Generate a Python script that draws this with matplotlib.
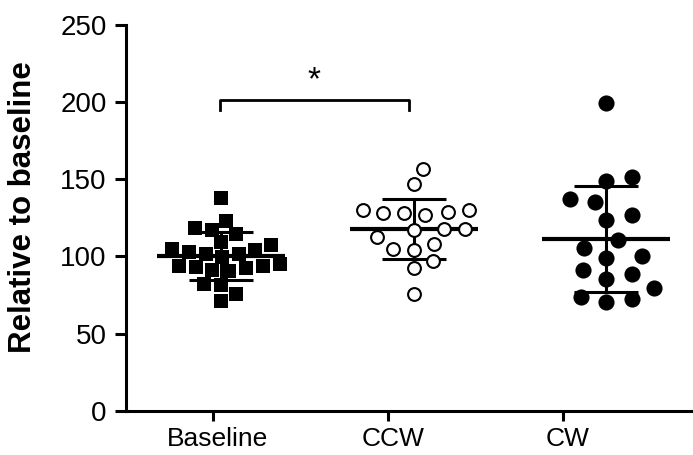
#!/usr/bin/env python3
"""Scatter dot plot (mean +/- SD) of three conditions relative to baseline -> out.png."""

import matplotlib

matplotlib.use("Agg")
import matplotlib.pyplot as plt  # noqa: E402
import numpy as np  # noqa: E402
from matplotlib.transforms import ScaledTranslation  # noqa: E402

plt.rcParams["font.family"] = ["Liberation Sans", "DejaVu Sans"]

GROUPS = ["Baseline", "CCW", "CW"]
BASELINE = [138.0, 122.8, 117.4, 118.5, 114.6, 109.2, 107.7, 104.9, 102.7, 101.6,
            101.6, 104.4, 99.4, 95.1, 94.0, 92.9, 91.4, 90.3, 92.5, 93.6,
            81.7, 82.3, 75.8, 70.8]
CCW = [156.9, 147.1, 129.8, 128.7, 128.3, 126.7, 128.3, 129.8, 117.9, 117.4,
       117.9, 108.3, 112.4, 105.1, 104.0, 97.3, 92.5, 75.6]
CW = [199.3, 148.8, 151.7, 137.4, 135.2, 126.7, 123.5, 110.5, 105.5, 99.0,
      100.5, 88.6, 91.4, 85.6, 79.5, 73.7, 70.2, 72.4]
YTICKS = [0, 50, 100, 150, 200, 250]
SIG_PAIR = (0, 1)   # Baseline vs CCW
SIG_LABEL = "*"

# GraphPad drew the columns slightly right of their category ticks
SHIFT = [0.05, 0.15, 0.25]


def swarm(ax, x0, vals, w, h):
    """Beeswarm offsets (data units); markers keep an elliptic w x h pixel gap."""
    pts = ax.transData.transform(np.column_stack([np.full(len(vals), x0), vals]))
    ys = pts[:, 1]
    xs = np.zeros(len(vals))
    done = []
    for i in np.argsort(ys, kind="stable"):
        y = ys[i]
        near = []
        for px, py in done:
            t = (y - py) / h
            if abs(t) < 1:
                near.append((px, w * np.sqrt(1 - t * t)))
        cands = [0.0] + [px + s * r for px, r in near for s in (-1, 1)]
        for c in sorted(cands, key=lambda v: (round(abs(v), 3), -v)):
            if all(abs(c - px) >= r - 1e-6 for px, r in near):
                break
        xs[i] = c
        done.append((c, y))
    ppu = ax.transData.transform((1, 0))[0] - ax.transData.transform((0, 0))[0]
    return xs / ppu


def main():
    fig = plt.figure(figsize=(6.93, 4.55), dpi=100)
    ax = fig.add_axes([0.1818, 0.0974, 0.8182, 0.8477])
    ax.set_xlim(-0.495, 2.745)
    ax.set_ylim(0, 250)

    styles = [
        dict(marker="s", s=100, color="black", linewidths=0, box=(17, 15)),
        dict(marker="o", s=85, facecolor="white", edgecolor="black", linewidths=1.5,
             box=(21, 17)),
        dict(marker="o", s=135, color="black", linewidths=0, box=(26, 20)),
    ]
    for k, vals in enumerate([BASELINE, CCW, CW]):
        vals = np.asarray(vals)
        x0 = k + SHIFT[k]
        st = dict(styles[k])
        w, h = st.pop("box")
        off = swarm(ax, x0, vals, w, h)
        ax.scatter(x0 + off, vals, zorder=3, clip_on=False, **st)
        m, sd = vals.mean(), vals.std(ddof=1)
        ax.plot([x0 - 0.366, x0 + 0.366], [m, m], color="black", lw=3, zorder=2,
                solid_capstyle="butt")
        ax.plot([x0, x0], [m - sd, m + sd], color="black", lw=2.2, zorder=2)
        for yy in (m - sd, m + sd):
            ax.plot([x0 - 0.183, x0 + 0.183], [yy, yy], color="black", lw=2.2,
                    zorder=2, solid_capstyle="butt")

    # significance bracket
    a, b = SIG_PAIR
    xa, xb = a + SHIFT[a] - 0.01, b + SHIFT[b] - 0.027
    ax.plot([xa, xa, xb, xb], [195, 201.3, 201.3, 195], color="black", lw=2,
            solid_joinstyle="round")
    ax.text((xa + xb) / 2, 204, SIG_LABEL, ha="center", va="bottom", fontsize=24)

    ax.set_xticks(range(len(GROUPS)))
    ax.set_xticklabels(GROUPS)
    ax.set_yticks(YTICKS)
    ax.set_ylabel("Relative to baseline", fontsize=22.5, fontweight="bold", va="center")
    ax.yaxis.set_label_coords(-0.1817, 0.529)
    ax.tick_params(axis="x", length=7.5, width=2.2, pad=4, labelsize=19)
    ax.tick_params(axis="y", length=8, width=2.2, pad=6, labelsize=20)
    nudge = ScaledTranslation(5 / 100, 0, fig.dpi_scale_trans)
    for lab in ax.get_xticklabels():
        lab.set_transform(lab.get_transform() + nudge)
    for side in ("top", "right"):
        ax.spines[side].set_visible(False)
    for side in ("left", "bottom"):
        ax.spines[side].set_linewidth(2.2)

    fig.savefig("out.png", dpi=100)
    plt.close(fig)


if __name__ == "__main__":
    main()
